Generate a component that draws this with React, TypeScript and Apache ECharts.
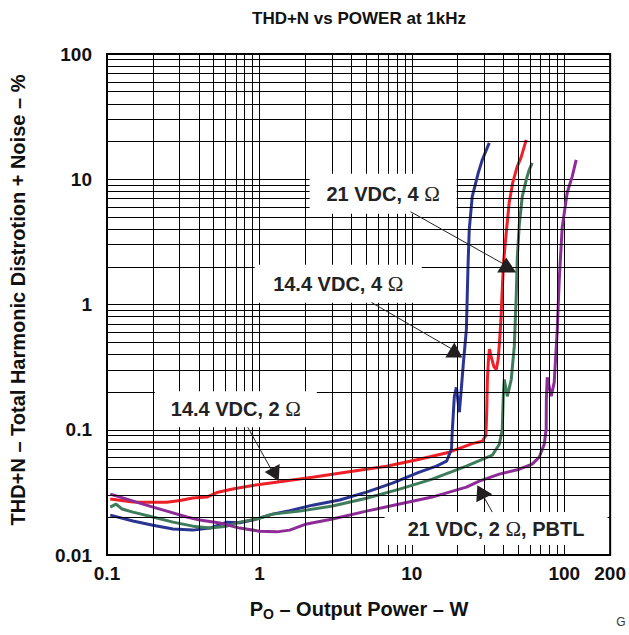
import React, { useEffect, useRef } from "react";
import * as echarts from "echarts";

const chartTitle = "THD+N vs POWER at 1kHz";
const xMin = 0.1;
const xMax = 200;
const yMin = 0.01;
const yMax = 100;

// [Output power W, THD+N %]
const red14v2ohm: [number, number][] = [
  [0.105, 0.028], [0.148, 0.0265], [0.191, 0.0264], [0.247, 0.0264], [0.301, 0.0272],
  [0.366, 0.0285], [0.452, 0.029], [0.525, 0.0315], [0.668, 0.0336], [0.864, 0.0356],
  [1.36, 0.0385], [2.23, 0.0418], [4.08, 0.0467], [6.82, 0.0512], [11.2, 0.0582],
  [17.6, 0.0662], [24.9, 0.0775], [29.0, 0.081], [30.6, 0.09], [31.0, 0.14],
  [31.3, 0.25], [31.8, 0.36], [32.3, 0.44], [33.2, 0.38], [34.5, 0.32], [35.8, 0.303],
  [36.8, 0.36], [37.6, 0.5], [38.4, 0.75], [39.0, 1.16], [40.0, 2.2], [41.5, 3.6],
  [43.5, 6.5], [46.0, 9.5], [49.0, 12.5], [52.2, 15.1], [56.3, 20.6],
];

const blue14v4ohm: [number, number][] = [
  [0.105, 0.0208], [0.148, 0.0187], [0.2, 0.0173], [0.271, 0.0161], [0.366, 0.0158],
  [0.473, 0.0164], [0.611, 0.0183], [0.743, 0.0181], [0.904, 0.019], [1.22, 0.0212],
  [1.58, 0.0226], [2.23, 0.025], [3.36, 0.0275], [5.04, 0.0318], [7.46, 0.0375],
  [11.2, 0.0459], [14.5, 0.0512], [16.9, 0.0561], [18.2, 0.07], [18.4, 0.0955],
  [19.0, 0.185], [19.6, 0.218], [20.5, 0.138], [21.1, 0.21], [21.8, 0.345],
  [22.8, 0.632], [23.1, 1.2], [23.4, 2.16], [23.8, 3.96], [24.9, 7.26], [27.3, 11.3],
  [29.0, 14.3], [32.2, 19.5],
];

const green21v4ohm: [number, number][] = [
  [0.105, 0.0241], [0.1146, 0.0255], [0.1254, 0.0233], [0.148, 0.022], [0.2, 0.0201],
  [0.271, 0.0183], [0.366, 0.017], [0.473, 0.0164], [0.611, 0.017], [0.743, 0.0183],
  [0.96, 0.0194], [1.22, 0.0212], [1.84, 0.0224], [3.02, 0.0246], [5.04, 0.0284],
  [8.3, 0.0336], [13.6, 0.0403], [22.8, 0.0512], [33.7, 0.0626], [37.5, 0.0766],
  [39.2, 0.101], [39.8, 0.185], [40.4, 0.252], [42.3, 0.185], [44.9, 0.252],
  [47.0, 0.463], [48.4, 1.16], [49.2, 2.41], [50.7, 4.34], [53.0, 7.26], [56.3, 9.9],
  [58.9, 11.9], [61.6, 13.5],
];

const purple21v2ohmPbtl: [number, number][] = [
  [0.105, 0.0306], [0.135, 0.0279], [0.172, 0.0255], [0.247, 0.0224], [0.334, 0.0201],
  [0.406, 0.019], [0.55, 0.018], [0.743, 0.0164], [1.0, 0.0155], [1.3, 0.0153],
  [1.58, 0.0158], [2.04, 0.0177], [3.02, 0.0194], [5.04, 0.0224], [8.3, 0.0255],
  [13.6, 0.029], [22.8, 0.0348], [27.7, 0.0389], [37.5, 0.0442], [50.7, 0.0484],
  [61.6, 0.0531], [68.5, 0.0604], [73.9, 0.0766], [76.1, 0.101], [76.3, 0.175],
  [77.3, 0.262], [82.1, 0.185], [85.9, 0.239], [90.0, 0.632], [92.7, 1.58],
  [96.9, 4.11], [104.5, 7.8], [112.7, 10.5], [119.7, 14.3],
];

const seriesNames = ["14.4 VDC, 2 Ω", "14.4 VDC, 4 Ω", "21 VDC, 4 Ω", "21 VDC, 2 Ω, PBTL"];
const seriesColors = ["#ee1f26", "#2a3592", "#3e7c5c", "#8d2b97"];
const seriesData = [red14v2ohm, blue14v4ohm, green21v4ohm, purple21v2ohmPbtl];

// annotation boxes: label parts, top-left anchor in data coords
const boxTexts = ["21 VDC, 4 ", "14.4 VDC, 4 ", "14.4 VDC, 2 ", "21 VDC, 2 "];
const boxTails = ["", "", "", ", PBTL"];
const boxAnchors: [number, number][] = [[2.135, 11.07], [0.931, 2.08], [0.206, 0.2026], [6.62, 0.022]];
const boxSizes: [number, number][] = [[147, 40], [167, 38], [162, 36], [223, 33]];
const arrowStarts: [number, number][] = [[9.79, 5.51], [5.44, 1.037], [0.838, 0.1047], [33.7, 0.022]];
const arrowTips: [number, number][] = [[41.6, 2.05], [19.0, 0.43], [1.222, 0.0459], [29.0, 0.0306]];
const headShapes: number[][][] = [
  [[0, -8], [-9, 7], [10, 7]],
  [[0, -8], [-9, 7], [8, 7]],
  [[-8, 0], [7, -8], [6, 9]],
  [[-5, -9], [-6, 8], [10, 0]],
];

function minorLines(lo: number, hi: number): number[] {
  const out: number[] = [];
  for (let e = Math.floor(Math.log10(lo)); e <= Math.ceil(Math.log10(hi)); e++) {
    for (let k = 2; k <= 9; k++) {
      const v = k * Math.pow(10, e);
      if (v > lo * 1.0001 && v < hi * 0.9999) out.push(v);
    }
  }
  return out;
}

const FONT = "'Liberation Sans', Arial, Helvetica, sans-serif";

function fmt(v: number): string {
  if (v >= 1) return String(Math.round(v));
  return String(Number(v.toPrecision(3)));
}

export default function App() {
  const ref = useRef<HTMLDivElement>(null);
  useEffect(() => {
    const chart = echarts.init(ref.current!, null, { renderer: "svg" });
    const gridLine = { color: "#000", width: 1, type: "solid" as const };
    const option: any = {
      animation: false,
      backgroundColor: "#fff",
      grid: {
        left: 107, right: 18, top: 54, bottom: 80,
        show: true, borderColor: "#000", borderWidth: 2, backgroundColor: "transparent",
      },
      xAxis: {
        type: "log", logBase: 10, min: xMin, max: xMax,
        axisLine: { show: false }, axisTick: { show: false },
        splitLine: { show: true, lineStyle: gridLine },
        axisLabel: {
          formatter: fmt, margin: 9, color: "#111",
          fontFamily: FONT, fontWeight: "bold", fontSize: 19,
        },
      },
      yAxis: {
        type: "log", logBase: 10, min: yMin, max: yMax,
        axisLine: { show: false }, axisTick: { show: false },
        splitLine: { show: true, lineStyle: gridLine },
        axisLabel: {
          formatter: fmt, margin: 15, color: "#111",
          fontFamily: FONT, fontWeight: "bold", fontSize: 19,
        },
      },
      series: [
        {
          type: "line", data: [], z: 1, silent: true,
          markLine: {
            silent: true, symbol: ["none", "none"], label: { show: false },
            lineStyle: gridLine, animation: false,
            data: [
              ...minorLines(xMin, xMax).map((v) => ({ xAxis: v })),
              ...minorLines(yMin, yMax).map((v) => ({ yAxis: v })),
            ],
          },
        },
        ...seriesData.map((d, i) => ({
          type: "line", name: seriesNames[i], data: d, z: 3,
          showSymbol: false, symbol: "none", silent: true,
          lineStyle: { color: seriesColors[i], width: 3 },
          itemStyle: { color: seriesColors[i] },
        })),
      ],
    };
    chart.setOption(option);

    const px = (p: [number, number]) => chart.convertToPixel({ gridIndex: 0 }, p) as number[];
    const graphics: any[] = [];
    graphics.push({
      type: "text", z: 50,
      style: { text: chartTitle, x: 359, y: 18, align: "center", verticalAlign: "middle",
        font: `bold 17px ${FONT}`, fill: "#111" },
    });
    graphics.push({
      type: "text", z: 50,
      style: {
        text: "{a|P}{s|O}{a| – Output Power – W}", x: 359, y: 609, align: "center", verticalAlign: "middle",
        rich: {
          a: { fontFamily: FONT, fontWeight: "bold", fontSize: 20, fill: "#111" },
          s: { fontFamily: FONT, fontWeight: "bold", fontSize: 14, fill: "#111", padding: [10, 0, 0, 0] },
        },
      },
    });
    graphics.push({
      type: "text", z: 50, x: 18, y: 300, rotation: Math.PI / 2,
      style: {
        text: "THD+N – Total Harmonic Distrotion + Noise – %", x: 0, y: 0,
        align: "center", verticalAlign: "middle", font: `bold 20px ${FONT}`, fill: "#111",
      },
    });
    graphics.push({
      type: "text", z: 50,
      style: { text: "G", x: 621, y: 622, align: "center", verticalAlign: "middle",
        font: `12px ${FONT}`, fill: "#333" },
    });
    for (let i = 0; i < boxTexts.length; i++) {
      const [bx, by] = px(boxAnchors[i]);
      const [w, h] = boxSizes[i];
      graphics.push({ type: "rect", z: 40, shape: { x: bx, y: by, width: w, height: h }, style: { fill: "#fff" } });
      graphics.push({
        type: "text", z: 45,
        style: {
          text: `{b|${boxTexts[i]}}{o|Ω}` + (boxTails[i] ? `{b|${boxTails[i]}}` : ""),
          x: bx + w / 2, y: by + h / 2, align: "center", verticalAlign: "middle",
          rich: {
            b: { fontFamily: FONT, fontWeight: "bold", fontSize: 20, fill: "#222" },
            o: { fontFamily: "'Liberation Serif', 'DejaVu Serif', serif", fontSize: 21, fill: "#222" },
          },
        },
      });
      const [sx, sy] = px(arrowStarts[i]);
      const [tx, ty] = px(arrowTips[i]);
      graphics.push({ type: "line", z: 46, shape: { x1: sx, y1: sy, x2: tx, y2: ty }, style: { stroke: "#222", lineWidth: 1 } });
      graphics.push({
        type: "polygon", z: 47,
        shape: { points: headShapes[i].map(([dx, dy]) => [tx + dx, ty + dy]) },
        style: { fill: "#231f20" },
      });
    }
    chart.setOption({ graphic: graphics });
    return () => chart.dispose();
  }, []);
  return (
    <div
      ref={ref}
      style={{ position: "fixed", left: 0, top: 0, width: 629, height: 635, background: "#fff" }}
    />
  );
}
